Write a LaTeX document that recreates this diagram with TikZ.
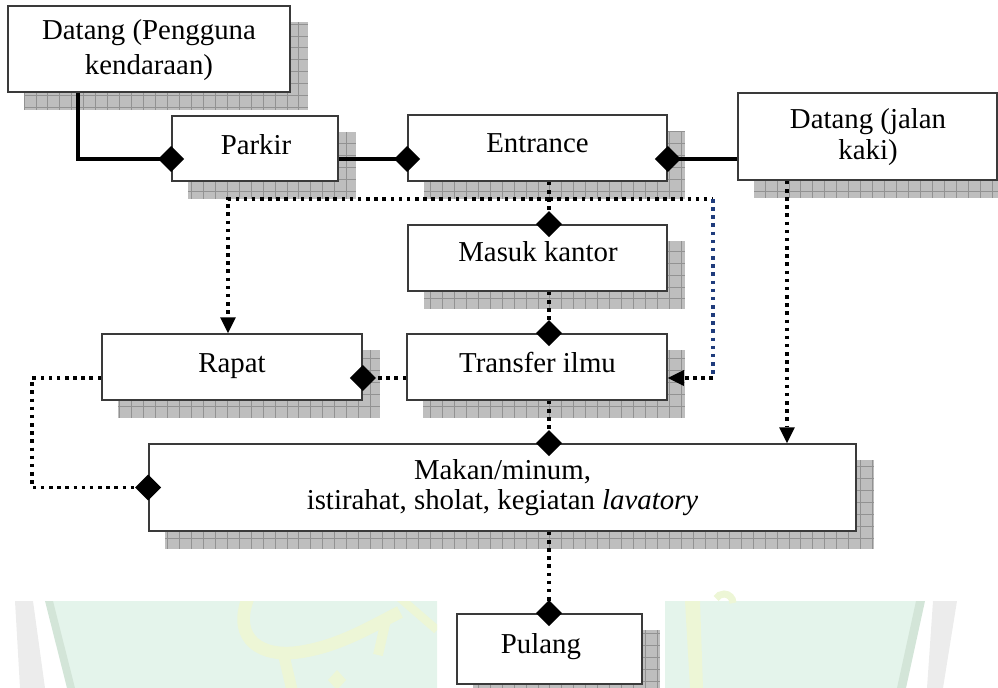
\documentclass[tikz,border=0pt]{standalone}
\usepackage{fontspec}
\setmainfont{Liberation Serif}
\usetikzlibrary{arrows.meta,calc,backgrounds}

\definecolor{shadowgray}{HTML}{BEBEBE}
\definecolor{gridgray}{HTML}{929292}
\definecolor{boxline}{HTML}{3A3A3A}
\definecolor{navydot}{HTML}{1F3C7C}
\definecolor{wmgreen}{HTML}{E4F4EB}
\definecolor{wmedge}{HTML}{D3E5D8}
\definecolor{wmgray}{HTML}{ECECEC}
\definecolor{wmyellow}{HTML}{EDF6D6}

\tikzset{
  stepbox/.style={draw=boxline, line width=1.2pt, fill=white, inner sep=0pt},
  boxtext/.style={inner sep=0pt, font=\fontsize{20.5}{25}\selectfont},
  solidlink/.style={line width=2.3pt, draw=black},
  dotlink/.style={line width=2.5pt, dash pattern=on 2.5pt off 3.3pt},
  diamondend/.style={-{Diamond[length=18.4pt,width=18.4pt,line width=0pt]}, shorten >=-9.2pt},
  arrowend/.style={-{Triangle[length=11.3pt,width=11.3pt,line width=0pt]}},
}

% gridded drop shadow behind a box
\newcommand\boxshadow[1]{%
  \begin{scope}
    \clip ($(#1.south west)+(17,17)$) rectangle ($(#1.north east)+(17,17)$);
    \fill[shadowgray] ($(#1.south west)+(17,17)$) rectangle ($(#1.north east)+(17,17)$);
    \draw[gridgray, line width=0.5pt, step=8.5pt] (0,688) grid (998,0);
  \end{scope}}

\begin{document}
\begin{tikzpicture}[x=0.025cm, y=-0.025cm]
\useasboundingbox (0,0) rectangle (998,688);

% boxes
\node[stepbox, minimum width=7.05cm,  minimum height=2.15cm]  (d1)       at (149,49)     {};
\node[stepbox, minimum width=4.15cm,  minimum height=1.625cm] (parkir)   at (255,148.5)  {};
\node[stepbox, minimum width=6.475cm, minimum height=1.65cm]  (entrance) at (537.5,148)  {};
\node[stepbox, minimum width=6.475cm, minimum height=1.65cm]  (masuk)    at (537.5,258)  {};
\node[stepbox, minimum width=6.475cm, minimum height=2.175cm] (d2)       at (867.5,136.5){};
\node[stepbox, minimum width=6.5cm,   minimum height=1.65cm]  (rapat)    at (232,367)    {};
\node[stepbox, minimum width=6.5cm,   minimum height=1.65cm]  (transfer) at (537,367)    {};
\node[stepbox, minimum width=17.675cm,minimum height=2.175cm] (makan)    at (502.5,487.5){};
\node[stepbox, minimum width=4.625cm, minimum height=1.75cm]  (pulang)   at (549.5,649)  {};

% labels
\node[boxtext, align=center, font=\fontsize{20.5}{24.8}\selectfont] (t-d1) at (149,50) {Datang (Pengguna\\kendaraan)};
\node[boxtext, anchor=base] (t-parkir)   at (256,155) {Parkir};
\node[boxtext, anchor=base] (t-entrance) at (537.5,153) {Entrance};
\node[boxtext, anchor=base] (t-masuk)    at (538,262) {Masuk kantor};
\node[boxtext, align=center, font=\fontsize{20.5}{22}\selectfont] (t-d2) at (868,137) {Datang (jalan\\kaki)};
\node[boxtext, anchor=base] (t-rapat)    at (232,372) {Rapat};
\node[boxtext, anchor=base] (t-transfer) at (537.5,372) {Transfer ilmu};
\node[boxtext, align=center, font=\fontsize{20.5}{21.3}\selectfont] (t-makan) at (502.5,488) {Makan/minum,\\istirahat, sholat, kegiatan \textit{lavatory}};
\node[boxtext, anchor=base] (t-pulang)   at (541,653) {Pulang};

% routing points
\coordinate (col)    at (549,0);
\coordinate (carx)   at (78,0);
\coordinate (walk)   at (787,0);
\coordinate (row1)   at (0,159);
\coordinate (row2)   at (0,378);
\coordinate (split)  at (549,199);
\coordinate (splitL) at (228,199);
\coordinate (splitR) at (713,199);
\coordinate (turnR)  at (713,378);
\coordinate (turnL)  at (32,378);

% connectors
\draw[solidlink, diamondend] (d1.south -| carx) |- (parkir.west |- row1);
\draw[solidlink, diamondend] (parkir.east |- row1) -- (entrance.west |- row1);
\draw[solidlink, diamondend] (d2.west |- row1) -- (entrance.east |- row1);
\draw[dotlink, diamondend] (entrance.south -| col) -- (masuk.north -| col);
\draw[dotlink, arrowend] (split) -- (splitL) -- (rapat.north -| splitL);
\draw[dotlink] (split) -- (splitR);
\draw[dotlink, navydot] (splitR) -- (turnR);
\draw[dotlink, arrowend] (turnR) -- (transfer.east |- turnR);
\draw[dotlink, diamondend] (masuk.south -| col) -- (transfer.north -| col);
\draw[dotlink, diamondend] (transfer.west |- row2) -- (rapat.east |- row2);
\draw[dotlink, diamondend] (rapat.west |- row2) -- (turnL) |- (makan.west);
\draw[dotlink, diamondend] (transfer.south -| col) -- (makan.north -| col);
\draw[dotlink, arrowend] (d2.south -| walk) -- (makan.north -| walk);
\draw[dotlink, diamondend] (makan.south -| col) -- (pulang.north -| col);

\begin{pgfonlayer}{background}
  % faint emblem along the bottom edge
  \fill[wmgray]  (15,601) -- (33,601) -- (45,688) -- (20,688) -- cycle;
  \fill[wmgreen] (50,601) -- (437,601) -- (437,688) -- (72,688) -- cycle;
  \fill[wmedge]  (45,601) -- (53,601) -- (75,688) -- (67,688) -- cycle;
  \fill[wmgreen] (665,601) -- (922,601) -- (903,688) -- (665,688) -- cycle;
  \fill[wmedge]  (916,601) -- (925,601) -- (906,688) -- (897,688) -- cycle;
  \fill[wmgray]  (933,601) -- (957,601) -- (943,688) -- (927,688) -- cycle;
  \begin{scope}
    \clip (50,601) rectangle (437,688);
    \draw[wmyellow, line width=9pt] (248,598) .. controls (232,640) and (262,658) .. (300,652)
         .. controls (340,646) and (372,626) .. (400,612);
    \draw[wmyellow, line width=8pt] (283,652) -- (292,690);
    \draw[wmyellow, line width=7pt] (386,620) -- (378,655);
    \draw[wmyellow, line width=6pt] (400,598) -- (437,630);
    \fill[wmyellow] (337,670) -- (346,680) -- (337,690) -- (328,680) -- cycle;
  \end{scope}
  \fill[wmyellow] (685,601) -- (700,601) -- (703,688) -- (690,688) -- cycle;
  \draw[wmyellow, line width=5pt] (733,603) arc[start angle=0, end angle=-150, radius=9];

  % drop shadows
  \foreach \b in {d1,parkir,entrance,masuk,d2,rapat,transfer,makan,pulang}{\boxshadow{\b}}
\end{pgfonlayer}
\end{tikzpicture}
\end{document}
